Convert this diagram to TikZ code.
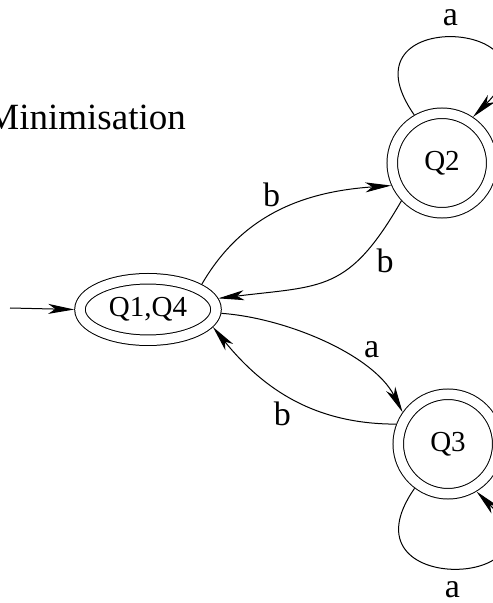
\documentclass[tikz,border=0pt]{standalone}
\usepackage{fontspec}
\setmainfont{Liberation Serif}
\usetikzlibrary{shapes.geometric,arrows.meta}
\tikzset{
accepting/.style={
  circle,
  draw,
  double,
  line width=1pt,
  double distance=9.5pt,
  minimum size=99.5pt,
  inner sep=0pt,
  outer sep=5.75pt,
  font=\fontsize{29}{29}\selectfont
},
accepting start/.style={
  accepting,
  ellipse,
  minimum width=136pt,
  minimum height=61.5pt
},
trans/.style={
  -{Stealth[length=26pt,width=10pt,inset=7pt]},
  line width=1pt
},
lbl/.style={font=\fontsize{34}{34}\selectfont,inner sep=2pt},
%title/.style={font=\fontsize{37}{37}\selectfont},
}

\begin{document}
\begin{tikzpicture}[x=1pt,y=1pt]
\useasboundingbox (0,0) rectangle (493,603);
\clip (0,0) rectangle (493,603);
\node[font=\fontsize{37}{37}\selectfont,anchor=base east,inner sep=0pt] (title) at (186,473) {Minimisation};
% the states
\node[accepting start] (q14) at (148,293.5) {Q1,Q4};
\node[accepting] (q2) at (442,440) {Q2};
\node[accepting] (q3) at (448,159) {Q3};
\coordinate (init) at (10,295);
% the transitions
\draw[trans] (init) -- (q14.west);
\draw[trans] (q14.25) to[out=60,in=184]
  node[lbl,pos=.45,above=5pt] {b} (q2.204);
\draw[trans] (q2.223) to[out=240,in=7,looseness=1.3]
  node[lbl,pos=.2,below right=2pt] {b} (q14.9);
\draw[trans] (q14.-3.5) to[out=-4,in=117,looseness=.8]
  node[lbl,pos=.6,right=17pt,yshift=4pt] {a} (q3.145);
\draw[trans] (q3.159) to[out=180,in=309]
  node[lbl,pos=.5,below left=0pt] {b} (q14.-15);
% the loops
\draw[trans] (q2.120) to[out=125,in=45,looseness=5.9]
  node[lbl,pos=.5,above=10pt] {a} (q2.56);
\draw[trans] (q3.233) to[out=235,in=315,looseness=5.6]
  node[lbl,pos=.5,below=11pt] {a} (q3.301);
\end{tikzpicture}
\end{document}
